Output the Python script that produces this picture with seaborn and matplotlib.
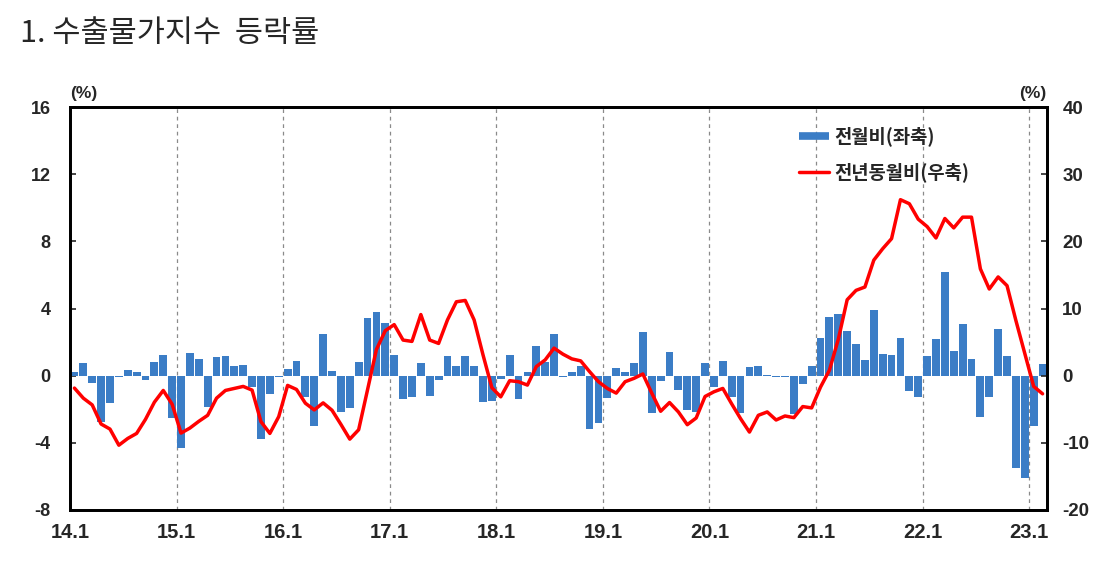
import numpy as np
import pandas as pd
import matplotlib
matplotlib.use("Agg")
import matplotlib.pyplot as plt
from matplotlib.lines import Line2D
import seaborn as sns

# ---- data -------------------------------------------------------------
years = list(range(2014, 2024))
year_labels = ["14.1", "15.1", "16.1", "17.1", "18.1", "19.1", "20.1", "21.1", "22.1", "23.1"]

mom_2014 = [0.2, 0.75, -0.45, -2.75, -1.6, -0.05, 0.35, 0.2, -0.25, 0.8, 1.25, -2.55]
mom_2015 = [-4.3, 1.35, 1.0, -1.85, 1.1, 1.15, 0.6, 0.65, -0.7, -3.8, -1.1, -0.05]
mom_2016 = [0.4, 0.85, -1.25, -3.0, 2.5, 0.25, -2.15, -1.9, 0.8, 3.45, 3.8, 3.15]
mom_2017 = [1.25, -1.4, -1.3, 0.75, -1.2, -0.25, 1.15, 0.6, 1.15, 0.55, -1.55, -1.5]
mom_2018 = [-0.2, 1.25, -1.4, 0.2, 1.75, 0.8, 2.5, -0.05, 0.2, 0.55, -3.15, -2.8]
mom_2019 = [-1.35, 0.45, 0.2, 0.75, 2.6, -2.2, -0.3, 1.4, -0.85, -2.05, -2.15, 0.75]
mom_2020 = [-0.65, 0.9, -1.25, -2.2, 0.5, 0.58, 0.05, -0.05, -0.05, -2.3, -0.5, 0.55]
mom_2021 = [2.25, 3.5, 3.65, 2.65, 1.9, 0.95, 3.9, 1.3, 1.25, 2.25, -0.9, -1.25]
mom_2022 = [1.2, 2.2, 6.15, 1.47, 3.08, 1.0, -2.46, -1.3, 2.8, 1.15, -5.48, -6.1]
mom_2023 = [-3.0, 0.7]

yoy_2014 = [-1.85, -3.35, -4.35, -7.2, -7.95, -10.35, -9.35, -8.6, -6.5, -3.95, -2.2, -4.25]
yoy_2015 = [-8.55, -7.8, -6.8, -5.9, -3.35, -2.2, -1.9, -1.6, -2.15, -6.85, -8.6, -6.1]
yoy_2016 = [-1.45, -2.05, -4.1, -5.1, -4.05, -5.15, -7.25, -9.45, -8.05, -2.1, 3.9, 6.7]
yoy_2017 = [7.6, 5.3, 5.1, 9.1, 5.3, 4.8, 8.3, 11.0, 11.2, 8.3, 3.1, -1.8]
yoy_2018 = [-3.15, -0.75, -0.9, -1.4, 1.35, 2.35, 4.1, 3.2, 2.5, 2.2, 0.6, -0.9]
yoy_2019 = [-1.9, -2.6, -0.9, -0.4, 0.25, -2.6, -5.3, -4.0, -5.4, -7.3, -6.3, -3.1]
yoy_2020 = [-2.4, -1.9, -4.2, -6.4, -8.4, -5.9, -5.4, -6.6, -6.0, -6.25, -4.6, -4.8]
yoy_2021 = [-1.7, 0.8, 5.4, 11.3, 12.7, 13.2, 17.2, 18.9, 20.4, 26.2, 25.6, 23.3]
yoy_2022 = [22.2, 20.5, 23.4, 22.0, 23.6, 23.6, 15.9, 12.9, 14.7, 13.4, 8.2, 3.3]
yoy_2023 = [-1.6, -2.7]

mom = (mom_2014 + mom_2015 + mom_2016 + mom_2017 + mom_2018 + mom_2019
       + mom_2020 + mom_2021 + mom_2022 + mom_2023)
yoy = (yoy_2014 + yoy_2015 + yoy_2016 + yoy_2017 + yoy_2018 + yoy_2019
       + yoy_2020 + yoy_2021 + yoy_2022 + yoy_2023)
months = [f"{y % 100}.{m}" for y in years for m in range(1, 13)][:len(mom)]

df = pd.DataFrame({"month": months, "pos": np.arange(len(mom)), "mom": mom, "yoy": yoy})

# ---- style ------------------------------------------------------------
sns.set_style("white")
plt.rcParams["font.family"] = ["Liberation Sans", "Noto Sans CJK KR", "DejaVu Sans"]
plt.rcParams["axes.unicode_minus"] = False

BAR_C = "#3B7DC6"
LINE_C = "#FF0000"

fig = plt.figure(figsize=(11.16, 5.74), dpi=100)
ax = fig.add_axes([70 / 1116, 1 - 510 / 574, 977 / 1116, 403 / 574])

sns.barplot(data=df, x="pos", y="mom", ax=ax, color=BAR_C, saturation=1,
            width=0.88, linewidth=0, order=list(df["pos"]))
ax2 = ax.twinx()
sns.lineplot(data=df, x="pos", y="yoy", ax=ax2, color=LINE_C, linewidth=2.5)

n = len(mom)
ax.set_xlim(-0.5, n - 0.5)
ax.set_ylim(-8, 16)
ax.set_yticks(range(-8, 17, 4))
ax2.set_ylim(-20, 40)
ax2.set_yticks(range(-20, 41, 10))

tick_pos = [12 * k - 0.5 for k in range(len(year_labels))]
ax.set_xticks(tick_pos)
ax.set_xticklabels(year_labels)
for p in tick_pos[1:]:
    ax.axvline(p, color="#8a8a8a", lw=0.9, ls=(0, (3, 3)), zorder=0)

ax.set_xlabel("")
ax.set_ylabel("")
ax2.set_ylabel("")
ax2.set_xlabel("")

ax.tick_params(axis="x", length=0, pad=9, labelsize=14.5)
ax.tick_params(axis="y", direction="in", length=4, width=1.2, pad=14, labelsize=13)
ax2.tick_params(axis="y", direction="in", length=4, width=1.2, pad=11, labelsize=13.5)
for lab in ax.get_xticklabels() + ax.get_yticklabels() + ax2.get_yticklabels():
    lab.set_fontweight("bold")

for a in (ax, ax2):
    for s in a.spines.values():
        s.set_color("black")
        s.set_linewidth(2.0)
        s.set_visible(True)

ax.text(0.014, 1.015, "(%)", transform=ax.transAxes, ha="center", va="bottom",
        fontsize=12.5, fontweight="bold")
ax.text(0.985, 1.015, "(%)", transform=ax.transAxes, ha="center", va="bottom",
        fontsize=12.5, fontweight="bold")

handles = [Line2D([0], [0], color=BAR_C, lw=5.5, solid_capstyle="butt"),
           Line2D([0], [0], color=LINE_C, lw=2.5)]
leg = ax2.legend(handles, ["전월비(좌축)", "전년동월비(우축)"], loc="upper left",
                 bbox_to_anchor=(0.737, 0.975), frameon=False, borderpad=0,
                 handlelength=1.6, handletextpad=0.25, labelspacing=0.85,
                 prop={"family": ["Noto Sans CJK KR", "DejaVu Sans"], "weight": "bold", "size": 13.5})

fig.text(20 / 1116, 1 - 42 / 574, "1. 수출물가지수  등락률",
         family=["Noto Sans CJK KR", "DejaVu Sans"], fontsize=22, va="baseline", ha="left")

fig.savefig("out.png", dpi=100)
